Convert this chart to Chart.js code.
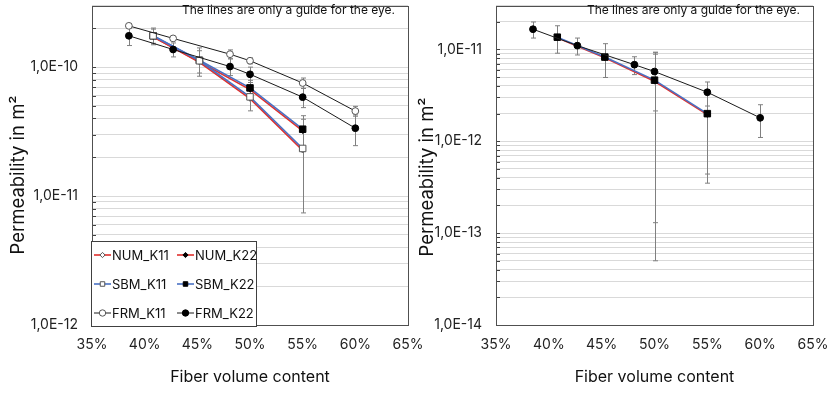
<!DOCTYPE html>
<html>
<head>
<meta charset="utf-8">
<script src="https://cdn.jsdelivr.net/npm/chart.js@4.4.0/dist/chart.umd.min.js"></script>
<style>
  html, body { margin: 0; padding: 0; background: #fff; }
  body { width: 831px; height: 395px; position: relative; overflow: hidden; }
  canvas { position: absolute; top: 0; }
  #cLeft  { left: 0; }
  #cRight { left: 410px; }
</style>
</head>
<body>
<canvas id="cLeft" width="425" height="395"></canvas>
<canvas id="cRight" width="421" height="395"></canvas>
<script>
// ===== Data: fiber volume content (%) vs permeability (m²) =====
const xFrm = [38.5, 42.7, 48.1, 50, 55, 60];
const xSim = [40.8, 45.2, 50, 55];
const xSim33 = [40.8, 45.3, 50, 55];

// in-plane (K11 / K22)
const numK11 = [1.72e-10, 1.09e-10, 0.57e-10, 0.226e-10];
const numK22 = [1.72e-10, 1.10e-10, 0.67e-10, 0.32e-10];
const sbmK11 = [1.75e-10, 1.12e-10, 0.588e-10, 0.234e-10];
const sbmK22 = [1.75e-10, 1.13e-10, 0.69e-10, 0.33e-10];
const frmK11 = [2.09e-10, 1.67e-10, 1.26e-10, 1.12e-10, 0.753e-10, 0.456e-10];
const frmK22 = [1.75e-10, 1.37e-10, 1.01e-10, 0.88e-10, 0.585e-10, 0.336e-10];
const sbmK11Err = [0.22e-10, 0.22e-10, 0.13e-10, 0.16e-10];
const sbmK22Err = [0.26e-10, 0.28e-10, 0.10e-10, 0.09e-10];
const frmK11Err = [0.08e-10, 0.06e-10, 0.10e-10, 0.06e-10, 0.07e-10, 0.04e-10];
const frmK22Err = [0.28e-10, 0.17e-10, 0.15e-10, 0.12e-10, 0.10e-10, 0.09e-10];

// out-of-plane (K33)
const numK33 = [1.34e-11, 0.81e-11, 0.45e-11, 0.195e-11];
const sbmK33 = [1.36e-11, 0.825e-11, 0.463e-11, 0.20e-11];
const frmK33 = [1.66e-11, 1.10e-11, 0.682e-11, 0.574e-11, 0.342e-11, 0.18e-11];
const numK33Err = [0, 0, 0.437e-11, 0.151e-11];
const sbmK33Err = [0.45e-11, 0.33e-11, 0.458e-11, 0.165e-11];
const frmK33Err = [0.33e-11, 0.23e-11, 0.15e-11, 0.36e-11, 0.10e-11, 0.07e-11];

const xTicks = [35, 40, 45, 50, 55, 60, 65];
const NOTE = 'The lines are only a guide for the eye.';
const Y_TITLE = 'Permeability in m²';

// ===== Styles =====
const RED = '#e0302e';
const BLUE = '#4a72c4';
const BLACK = '#1a1a1a';
const FONT = 'Inter, "Noto Sans", sans-serif';

function pts(xs, ys) { return xs.map((x, i) => ({ x, y: ys[i] })); }

function series(label, xs, ys, errs, kind, open) {
  const color = kind === 'num' ? RED : kind === 'sbm' ? BLUE : BLACK;
  const style = kind === 'num' ? 'rectRot' : kind === 'sbm' ? 'rect' : 'circle';
  const r = kind === 'num' ? 2.6 : kind === 'sbm' ? 4.6 : 3.4;
  return {
    label, data: pts(xs, ys), errors: errs,
    showLine: true, tension: 0,
    borderColor: color, borderWidth: kind === 'frm' ? 1 : 1.6,
    pointStyle: style, pointRadius: r, pointHoverRadius: r,
    pointBackgroundColor: open ? '#fff' : '#000',
    pointBorderColor: open ? '#555' : '#000', pointBorderWidth: 1
  };
}

function drawMarker(ctx, ds, x, y) {
  const r = ds.pointRadius;
  ctx.save();
  ctx.beginPath();
  if (ds.pointStyle === 'circle') ctx.arc(x, y, r, 0, Math.PI * 2);
  else if (ds.pointStyle === 'rect') { const s = r * Math.SQRT1_2; ctx.rect(x - s, y - s, 2 * s, 2 * s); }
  else { ctx.moveTo(x, y - r); ctx.lineTo(x + r, y); ctx.lineTo(x, y + r); ctx.lineTo(x - r, y); ctx.closePath(); }
  ctx.fillStyle = ds.pointBackgroundColor; ctx.fill();
  ctx.strokeStyle = ds.pointBorderColor; ctx.lineWidth = 1; ctx.stroke();
  ctx.restore();
}

// ===== Plugins =====
const frameAndErrors = {
  id: 'frameAndErrors',
  beforeDatasetsDraw(chart) {
    const { ctx, chartArea: a, scales: { x, y } } = chart;
    ctx.save();
    // inner tick marks on the value axis
    ctx.strokeStyle = '#404040'; ctx.lineWidth = 1;
    y.ticks.forEach(t => {
      const py = Math.round(y.getPixelForValue(t.value)) + 0.5;
      ctx.beginPath(); ctx.moveTo(a.left, py); ctx.lineTo(a.left + 4, py); ctx.stroke();
    });
    // plot frame
    ctx.strokeStyle = '#505050';
    ctx.strokeRect(Math.round(a.left) + 0.5, Math.round(a.top) + 0.5, Math.round(a.right - a.left), Math.round(a.bottom - a.top));
    // error bars
    ctx.strokeStyle = '#808080';
    chart.data.datasets.forEach(ds => {
      if (!ds.errors) return;
      ds.data.forEach((p, i) => {
        const e = ds.errors[i];
        if (!e) return;
        const px = Math.round(x.getPixelForValue(p.x)) + 0.5;
        const top = y.getPixelForValue(p.y + e);
        const bot = y.getPixelForValue(Math.max(p.y - e, y.min));
        ctx.beginPath();
        ctx.moveTo(px, top); ctx.lineTo(px, bot);
        ctx.moveTo(px - 2.5, top); ctx.lineTo(px + 2.5, top);
        ctx.moveTo(px - 2.5, bot); ctx.lineTo(px + 2.5, bot);
        ctx.stroke();
      });
    });
    ctx.restore();
  },
  afterDraw(chart, args, opts) {
    const { ctx, chartArea: a } = chart;
    ctx.save();
    // y axis title (placed like the original, a bit below plot centre)
    ctx.save();
    ctx.translate(opts.yTitle.x, opts.yTitle.y);
    ctx.rotate(-Math.PI / 2);
    ctx.font = '18.5px ' + FONT;
    ctx.fillStyle = '#111';
    ctx.textAlign = 'center'; ctx.textBaseline = 'middle';
    ctx.fillText(Y_TITLE, 0, 0);
    ctx.restore();
    // note
    ctx.font = '12px ' + FONT;
    ctx.fillStyle = '#111';
    ctx.textAlign = 'right'; ctx.textBaseline = 'middle';
    ctx.fillText(NOTE, a.right - 13, 10);
    // legend box
    const L = opts.legend;
    ctx.fillStyle = '#fff';
    ctx.fillRect(L.x, L.y, L.w, L.h);
    ctx.strokeStyle = '#404040'; ctx.lineWidth = 1;
    ctx.strokeRect(L.x + 0.5, L.y + 0.5, L.w, L.h);
    ctx.font = '13px ' + FONT;
    ctx.textAlign = 'left';
    L.items.forEach(it => {
      const ds = chart.data.datasets.find(d => d.label === it.label);
      const lx = L.x + it.dx, ly = L.y + it.dy;
      ctx.strokeStyle = ds.borderColor; ctx.lineWidth = ds.borderWidth;
      ctx.beginPath(); ctx.moveTo(lx, ly); ctx.lineTo(lx + 17, ly); ctx.stroke();
      drawMarker(ctx, Object.assign({}, ds, { pointRadius: Math.min(ds.pointRadius, 3.2) }), lx + 8.5, ly);
      ctx.fillStyle = '#111';
      ctx.fillText(ds.label, lx + 18, ly + 1);
    });
    ctx.restore();
  }
};

function logTicks(scale) {
  const out = [];
  const e0 = Math.floor(Math.log10(scale.min) + 1e-9);
  const e1 = Math.ceil(Math.log10(scale.max));
  for (let e = e0; e <= e1; e++) {
    for (let m = 1; m <= 9; m++) {
      const v = parseFloat((m * Math.pow(10, e)).toPrecision(3));
      if (v >= scale.min * 0.999 && v <= scale.max * 1.001) out.push({ value: v });
    }
  }
  scale.ticks = out;
}

function sciLabel(v) {
  const e = Math.log10(v);
  if (Math.abs(e - Math.round(e)) > 1e-6) return '';
  return '1,0E' + Math.round(e);
}

function makeChart(id, datasets, yMin, yMax, yWidth, padRight, yTitle, legend) {
  return new Chart(document.getElementById(id), {
    type: 'scatter',
    data: { datasets },
    options: {
      responsive: false, animation: false, devicePixelRatio: 1,
      layout: { padding: { left: 0, right: padRight, top: 2, bottom: 0 } },
      plugins: { legend: { display: false }, tooltip: { enabled: false }, frameAndErrors: { legend, yTitle } },
      scales: {
        x: {
          type: 'linear', min: 35, max: 65,
          afterBuildTicks: s => { s.ticks = xTicks.map(v => ({ value: v })); },
          afterFit: s => { s.height = 70; s.paddingLeft = 0; s.paddingRight = 0; },
          grid: { display: false, drawTicks: false },
          border: { display: false },
          ticks: { callback: v => v + '%', padding: 11, color: '#222', font: { family: FONT, size: 14 }, maxRotation: 0, autoSkip: false },
          title: { display: true, text: 'Fiber volume content', color: '#111', font: { family: FONT, size: 16 }, padding: { top: 0, bottom: 8 } }
        },
        y: {
          type: 'logarithmic', min: yMin, max: yMax,
          afterBuildTicks: logTicks,
          afterFit: s => { s.width = yWidth; s.paddingTop = 0; s.paddingBottom = 0; },
          grid: { color: '#d9d9d9', lineWidth: 1, drawTicks: false },
          border: { display: false },
          ticks: { callback: sciLabel, padding: 14, autoSkip: false, color: '#222', font: { family: FONT, size: 14 } },
          title: { display: false }
        }
      }
    },
    plugins: [frameAndErrors]
  });
}

// ===== Left chart: K11 / K22 =====
makeChart('cLeft', [
  series('FRM_K11', xFrm, frmK11, frmK11Err, 'frm', true),
  series('FRM_K22', xFrm, frmK22, frmK22Err, 'frm', false),
  series('SBM_K11', xSim, sbmK11, sbmK11Err, 'sbm', true),
  series('SBM_K22', xSim, sbmK22, sbmK22Err, 'sbm', false),
  series('NUM_K11', xSim, numK11, null, 'num', true),
  series('NUM_K22', xSim, numK22, null, 'num', false)
], 1e-12, 3e-10, 92, 17, { x: 18, y: 175 }, {
  x: 91, y: 241, w: 165, h: 85,
  items: [
    { label: 'NUM_K11', dx: 3, dy: 14 }, { label: 'NUM_K22', dx: 86, dy: 14 },
    { label: 'SBM_K11', dx: 3, dy: 43 }, { label: 'SBM_K22', dx: 86, dy: 43 },
    { label: 'FRM_K11', dx: 3, dy: 72 }, { label: 'FRM_K22', dx: 86, dy: 72 }
  ]
});

// ===== Right chart: K33 =====
makeChart('cRight', [
  series('FRM_K33', xFrm, frmK33, frmK33Err, 'frm', false),
  series('SBM_K33', xSim33, sbmK33, sbmK33Err, 'sbm', false),
  series('NUM_K33', xSim33, numK33, numK33Err, 'num', false)
], 1e-14, 3e-11, 86, 18, { x: 17.5, y: 177 }, {
  x: 496, y: 241, w: 89, h: 88,
  items: [
    { label: 'NUM_K33', dx: 3, dy: 14 },
    { label: 'SBM_K33', dx: 3, dy: 43 },
    { label: 'FRM_K33', dx: 3, dy: 72 }
  ]
});
</script>
</body>
</html>
